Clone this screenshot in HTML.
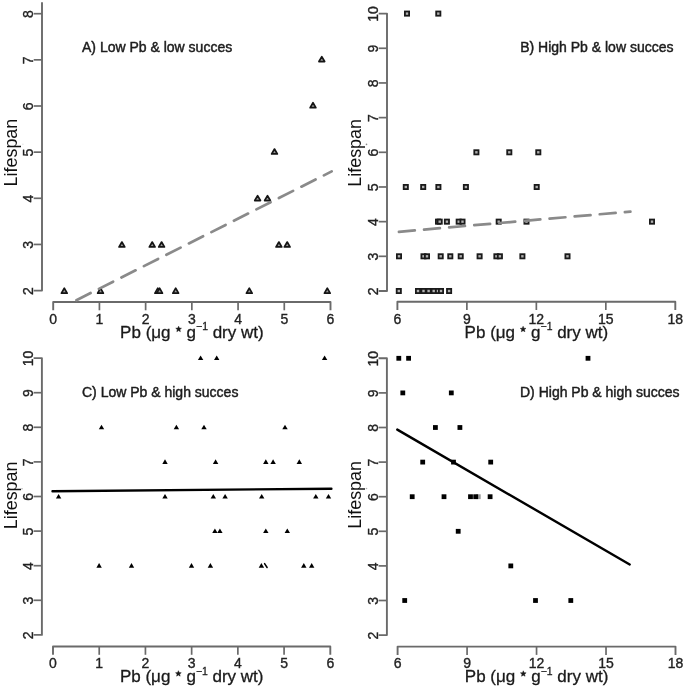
<!DOCTYPE html>
<html><head><meta charset="utf-8"><style>
html,body{margin:0;padding:0;background:#fff;}
body{width:685px;height:690px;overflow:hidden;}
svg{display:block;will-change:transform;}
text{font-family:"Liberation Sans", sans-serif;}
.tk{font-size:14px;fill:#222;stroke:#222;stroke-width:0.35px;}
.yl{font-size:17.9px;fill:#111;}
.xl{font-size:17px;fill:#1a1a1a;stroke:#1a1a1a;stroke-width:0.3px;}
.sup{font-size:10.4px;}
.hid{fill:none;stroke:none;}
.tt{font-size:14px;fill:#1c1c1c;stroke:#1c1c1c;stroke-width:0.45px;}
</style></head><body>
<svg width="685" height="690" viewBox="0 0 685 690">
<rect width="685" height="690" fill="#fff"/>
<path d="M33.7,290.6 L42,290.6 L42,2.3" fill="none" stroke="#6a6a6a" stroke-width="1.9" stroke-linejoin="round" stroke-linecap="butt"/>
<text transform="translate(32.6,291) rotate(-90)" text-anchor="middle" class="tk">2</text>
<line x1="33.7" y1="244.45" x2="42" y2="244.45" stroke="#6a6a6a" stroke-width="1.7"/>
<text transform="translate(32.6,244.85) rotate(-90)" text-anchor="middle" class="tk">3</text>
<line x1="33.7" y1="198.3" x2="42" y2="198.3" stroke="#6a6a6a" stroke-width="1.7"/>
<text transform="translate(32.6,198.7) rotate(-90)" text-anchor="middle" class="tk">4</text>
<line x1="33.7" y1="152.15" x2="42" y2="152.15" stroke="#6a6a6a" stroke-width="1.7"/>
<text transform="translate(32.6,152.55) rotate(-90)" text-anchor="middle" class="tk">5</text>
<line x1="33.7" y1="106" x2="42" y2="106" stroke="#6a6a6a" stroke-width="1.7"/>
<text transform="translate(32.6,106.4) rotate(-90)" text-anchor="middle" class="tk">6</text>
<line x1="33.7" y1="59.85" x2="42" y2="59.85" stroke="#6a6a6a" stroke-width="1.7"/>
<text transform="translate(32.6,60.25) rotate(-90)" text-anchor="middle" class="tk">7</text>
<line x1="33.7" y1="13.7" x2="42" y2="13.7" stroke="#6a6a6a" stroke-width="1.7"/>
<text transform="translate(32.6,14.1) rotate(-90)" text-anchor="middle" class="tk">8</text>
<path d="M53.2,310.3 L53.2,302 L330.5,302 L330.5,310.3" fill="none" stroke="#6a6a6a" stroke-width="1.9" stroke-linejoin="round" stroke-linecap="butt"/>
<text x="53.2" y="323.8" text-anchor="middle" class="tk">0</text>
<line x1="99.42" y1="302" x2="99.42" y2="310.3" stroke="#6a6a6a" stroke-width="1.7"/>
<text x="99.42" y="323.8" text-anchor="middle" class="tk">1</text>
<line x1="145.63" y1="302" x2="145.63" y2="310.3" stroke="#6a6a6a" stroke-width="1.7"/>
<text x="145.63" y="323.8" text-anchor="middle" class="tk">2</text>
<line x1="191.85" y1="302" x2="191.85" y2="310.3" stroke="#6a6a6a" stroke-width="1.7"/>
<text x="191.85" y="323.8" text-anchor="middle" class="tk">3</text>
<line x1="238.07" y1="302" x2="238.07" y2="310.3" stroke="#6a6a6a" stroke-width="1.7"/>
<text x="238.07" y="323.8" text-anchor="middle" class="tk">4</text>
<line x1="284.28" y1="302" x2="284.28" y2="310.3" stroke="#6a6a6a" stroke-width="1.7"/>
<text x="284.28" y="323.8" text-anchor="middle" class="tk">5</text>
<text x="330.5" y="323.8" text-anchor="middle" class="tk">6</text>
<text transform="translate(16.8,152.6) rotate(-90)" text-anchor="middle" class="yl">Lifespan</text>
<text x="191.9" y="337.8" text-anchor="middle" class="xl">Pb (μg <tspan class="hid">*</tspan> g<tspan class="sup" dy="-7.5">−1</tspan><tspan dy="7.5"> dry wt)</tspan></text>
<polygon points="178.6,326.2 179.39,328.11 181.45,328.27 179.88,329.62 180.36,331.63 178.6,330.55 176.84,331.63 177.32,329.62 175.75,328.27 177.81,328.11" fill="#1a1a1a" stroke="#1a1a1a" stroke-width="0.5" stroke-linejoin="round"/>
<text x="82" y="52.3" class="tt">A) Low Pb &amp; low succes</text>
<path d="M378.7,291 L387,291 L387,13.6 L378.7,13.6" fill="none" stroke="#6a6a6a" stroke-width="1.9" stroke-linejoin="round" stroke-linecap="butt"/>
<text transform="translate(377.6,291.4) rotate(-90)" text-anchor="middle" class="tk">2</text>
<line x1="378.7" y1="256.32" x2="387" y2="256.32" stroke="#6a6a6a" stroke-width="1.7"/>
<text transform="translate(377.6,256.72) rotate(-90)" text-anchor="middle" class="tk">3</text>
<line x1="378.7" y1="221.65" x2="387" y2="221.65" stroke="#6a6a6a" stroke-width="1.7"/>
<text transform="translate(377.6,222.05) rotate(-90)" text-anchor="middle" class="tk">4</text>
<line x1="378.7" y1="186.98" x2="387" y2="186.98" stroke="#6a6a6a" stroke-width="1.7"/>
<text transform="translate(377.6,187.38) rotate(-90)" text-anchor="middle" class="tk">5</text>
<line x1="378.7" y1="152.3" x2="387" y2="152.3" stroke="#6a6a6a" stroke-width="1.7"/>
<text transform="translate(377.6,152.7) rotate(-90)" text-anchor="middle" class="tk">6</text>
<line x1="378.7" y1="117.62" x2="387" y2="117.62" stroke="#6a6a6a" stroke-width="1.7"/>
<text transform="translate(377.6,118.03) rotate(-90)" text-anchor="middle" class="tk">7</text>
<line x1="378.7" y1="82.95" x2="387" y2="82.95" stroke="#6a6a6a" stroke-width="1.7"/>
<text transform="translate(377.6,83.35) rotate(-90)" text-anchor="middle" class="tk">8</text>
<line x1="378.7" y1="48.28" x2="387" y2="48.28" stroke="#6a6a6a" stroke-width="1.7"/>
<text transform="translate(377.6,48.68) rotate(-90)" text-anchor="middle" class="tk">9</text>
<text transform="translate(377.6,14) rotate(-90)" text-anchor="middle" class="tk">10</text>
<path d="M397.4,310 L397.4,301.7 L675.3,301.7 L675.3,310" fill="none" stroke="#6a6a6a" stroke-width="1.9" stroke-linejoin="round" stroke-linecap="butt"/>
<text x="397.4" y="323.5" text-anchor="middle" class="tk">6</text>
<line x1="466.88" y1="301.7" x2="466.88" y2="310" stroke="#6a6a6a" stroke-width="1.7"/>
<text x="466.88" y="323.5" text-anchor="middle" class="tk">9</text>
<line x1="536.35" y1="301.7" x2="536.35" y2="310" stroke="#6a6a6a" stroke-width="1.7"/>
<text x="536.35" y="323.5" text-anchor="middle" class="tk">12</text>
<line x1="605.82" y1="301.7" x2="605.82" y2="310" stroke="#6a6a6a" stroke-width="1.7"/>
<text x="605.82" y="323.5" text-anchor="middle" class="tk">15</text>
<text x="675.3" y="323.5" text-anchor="middle" class="tk">18</text>
<text transform="translate(361.2,152.9) rotate(-90)" text-anchor="middle" class="yl">Lifespan</text>
<text x="536.4" y="337.9" text-anchor="middle" class="xl">Pb (μg <tspan class="hid">*</tspan> g<tspan class="sup" dy="-7.5">−1</tspan><tspan dy="7.5"> dry wt)</tspan></text>
<polygon points="523.1,326.3 523.89,328.21 525.95,328.37 524.38,329.72 524.86,331.73 523.1,330.65 521.34,331.73 521.82,329.72 520.25,328.37 522.31,328.21" fill="#1a1a1a" stroke="#1a1a1a" stroke-width="0.5" stroke-linejoin="round"/>
<text x="520.2" y="52.3" class="tt">B) High Pb &amp; low succes</text>
<path d="M33.6,634.9 L41.9,634.9 L41.9,358.1 L33.6,358.1" fill="none" stroke="#6a6a6a" stroke-width="1.9" stroke-linejoin="round" stroke-linecap="butt"/>
<text transform="translate(32.5,635.3) rotate(-90)" text-anchor="middle" class="tk">2</text>
<line x1="33.6" y1="600.3" x2="41.9" y2="600.3" stroke="#6a6a6a" stroke-width="1.7"/>
<text transform="translate(32.5,600.7) rotate(-90)" text-anchor="middle" class="tk">3</text>
<line x1="33.6" y1="565.7" x2="41.9" y2="565.7" stroke="#6a6a6a" stroke-width="1.7"/>
<text transform="translate(32.5,566.1) rotate(-90)" text-anchor="middle" class="tk">4</text>
<line x1="33.6" y1="531.1" x2="41.9" y2="531.1" stroke="#6a6a6a" stroke-width="1.7"/>
<text transform="translate(32.5,531.5) rotate(-90)" text-anchor="middle" class="tk">5</text>
<line x1="33.6" y1="496.5" x2="41.9" y2="496.5" stroke="#6a6a6a" stroke-width="1.7"/>
<text transform="translate(32.5,496.9) rotate(-90)" text-anchor="middle" class="tk">6</text>
<line x1="33.6" y1="461.9" x2="41.9" y2="461.9" stroke="#6a6a6a" stroke-width="1.7"/>
<text transform="translate(32.5,462.3) rotate(-90)" text-anchor="middle" class="tk">7</text>
<line x1="33.6" y1="427.3" x2="41.9" y2="427.3" stroke="#6a6a6a" stroke-width="1.7"/>
<text transform="translate(32.5,427.7) rotate(-90)" text-anchor="middle" class="tk">8</text>
<line x1="33.6" y1="392.7" x2="41.9" y2="392.7" stroke="#6a6a6a" stroke-width="1.7"/>
<text transform="translate(32.5,393.1) rotate(-90)" text-anchor="middle" class="tk">9</text>
<text transform="translate(32.5,358.5) rotate(-90)" text-anchor="middle" class="tk">10</text>
<path d="M53,654.8 L53,646.5 L330.3,646.5 L330.3,654.8" fill="none" stroke="#6a6a6a" stroke-width="1.9" stroke-linejoin="round" stroke-linecap="butt"/>
<text x="53" y="668.3" text-anchor="middle" class="tk">0</text>
<line x1="99.22" y1="646.5" x2="99.22" y2="654.8" stroke="#6a6a6a" stroke-width="1.7"/>
<text x="99.22" y="668.3" text-anchor="middle" class="tk">1</text>
<line x1="145.43" y1="646.5" x2="145.43" y2="654.8" stroke="#6a6a6a" stroke-width="1.7"/>
<text x="145.43" y="668.3" text-anchor="middle" class="tk">2</text>
<line x1="191.65" y1="646.5" x2="191.65" y2="654.8" stroke="#6a6a6a" stroke-width="1.7"/>
<text x="191.65" y="668.3" text-anchor="middle" class="tk">3</text>
<line x1="237.87" y1="646.5" x2="237.87" y2="654.8" stroke="#6a6a6a" stroke-width="1.7"/>
<text x="237.87" y="668.3" text-anchor="middle" class="tk">4</text>
<line x1="284.08" y1="646.5" x2="284.08" y2="654.8" stroke="#6a6a6a" stroke-width="1.7"/>
<text x="284.08" y="668.3" text-anchor="middle" class="tk">5</text>
<text x="330.3" y="668.3" text-anchor="middle" class="tk">6</text>
<text transform="translate(16.8,495.4) rotate(-90)" text-anchor="middle" class="yl">Lifespan</text>
<text x="191.7" y="682.3" text-anchor="middle" class="xl">Pb (μg <tspan class="hid">*</tspan> g<tspan class="sup" dy="-7.5">−1</tspan><tspan dy="7.5"> dry wt)</tspan></text>
<polygon points="178.4,670.7 179.19,672.61 181.25,672.77 179.68,674.12 180.16,676.13 178.4,675.05 176.64,676.13 177.12,674.12 175.55,672.77 177.61,672.61" fill="#1a1a1a" stroke="#1a1a1a" stroke-width="0.5" stroke-linejoin="round"/>
<text x="82" y="397.3" class="tt">C) Low Pb &amp; high succes</text>
<path d="M378.6,635.1 L386.9,635.1 L386.9,358.3 L378.6,358.3" fill="none" stroke="#6a6a6a" stroke-width="1.9" stroke-linejoin="round" stroke-linecap="butt"/>
<text transform="translate(377.5,635.5) rotate(-90)" text-anchor="middle" class="tk">2</text>
<line x1="378.6" y1="600.5" x2="386.9" y2="600.5" stroke="#6a6a6a" stroke-width="1.7"/>
<text transform="translate(377.5,600.9) rotate(-90)" text-anchor="middle" class="tk">3</text>
<line x1="378.6" y1="565.9" x2="386.9" y2="565.9" stroke="#6a6a6a" stroke-width="1.7"/>
<text transform="translate(377.5,566.3) rotate(-90)" text-anchor="middle" class="tk">4</text>
<line x1="378.6" y1="531.3" x2="386.9" y2="531.3" stroke="#6a6a6a" stroke-width="1.7"/>
<text transform="translate(377.5,531.7) rotate(-90)" text-anchor="middle" class="tk">5</text>
<line x1="378.6" y1="496.7" x2="386.9" y2="496.7" stroke="#6a6a6a" stroke-width="1.7"/>
<text transform="translate(377.5,497.1) rotate(-90)" text-anchor="middle" class="tk">6</text>
<line x1="378.6" y1="462.1" x2="386.9" y2="462.1" stroke="#6a6a6a" stroke-width="1.7"/>
<text transform="translate(377.5,462.5) rotate(-90)" text-anchor="middle" class="tk">7</text>
<line x1="378.6" y1="427.5" x2="386.9" y2="427.5" stroke="#6a6a6a" stroke-width="1.7"/>
<text transform="translate(377.5,427.9) rotate(-90)" text-anchor="middle" class="tk">8</text>
<line x1="378.6" y1="392.9" x2="386.9" y2="392.9" stroke="#6a6a6a" stroke-width="1.7"/>
<text transform="translate(377.5,393.3) rotate(-90)" text-anchor="middle" class="tk">9</text>
<text transform="translate(377.5,358.7) rotate(-90)" text-anchor="middle" class="tk">10</text>
<path d="M397.6,654.9 L397.6,646.6 L675.5,646.6 L675.5,654.9" fill="none" stroke="#6a6a6a" stroke-width="1.9" stroke-linejoin="round" stroke-linecap="butt"/>
<text x="397.6" y="668.4" text-anchor="middle" class="tk">6</text>
<line x1="467.08" y1="646.6" x2="467.08" y2="654.9" stroke="#6a6a6a" stroke-width="1.7"/>
<text x="467.08" y="668.4" text-anchor="middle" class="tk">9</text>
<line x1="536.55" y1="646.6" x2="536.55" y2="654.9" stroke="#6a6a6a" stroke-width="1.7"/>
<text x="536.55" y="668.4" text-anchor="middle" class="tk">12</text>
<line x1="606.02" y1="646.6" x2="606.02" y2="654.9" stroke="#6a6a6a" stroke-width="1.7"/>
<text x="606.02" y="668.4" text-anchor="middle" class="tk">15</text>
<text x="675.5" y="668.4" text-anchor="middle" class="tk">18</text>
<text transform="translate(361.2,494.9) rotate(-90)" text-anchor="middle" class="yl">Lifespan</text>
<text x="536.6" y="682.4" text-anchor="middle" class="xl">Pb (μg <tspan class="hid">*</tspan> g<tspan class="sup" dy="-7.5">−1</tspan><tspan dy="7.5"> dry wt)</tspan></text>
<polygon points="523.3,670.8 524.09,672.71 526.15,672.87 524.58,674.22 525.06,676.23 523.3,675.15 521.54,676.23 522.02,674.22 520.45,672.87 522.51,672.71" fill="#1a1a1a" stroke="#1a1a1a" stroke-width="0.5" stroke-linejoin="round"/>
<text x="520" y="396.9" class="tt">D) High Pb &amp; high succes</text>
<polygon points="64.3,288.25 67.15,293.15 61.45,293.15" fill="#999" stroke="#151515" stroke-width="1.7" stroke-linejoin="round"/>
<polygon points="100.5,288.25 103.35,293.15 97.65,293.15" fill="#999" stroke="#151515" stroke-width="1.7" stroke-linejoin="round"/>
<polygon points="157.8,288.25 160.65,293.15 154.95,293.15" fill="#999" stroke="#151515" stroke-width="1.7" stroke-linejoin="round"/>
<polygon points="159.6,288.25 162.45,293.15 156.75,293.15" fill="#999" stroke="#151515" stroke-width="1.7" stroke-linejoin="round"/>
<polygon points="175.7,288.25 178.55,293.15 172.85,293.15" fill="#999" stroke="#151515" stroke-width="1.7" stroke-linejoin="round"/>
<polygon points="249.3,288.25 252.15,293.15 246.45,293.15" fill="#999" stroke="#151515" stroke-width="1.7" stroke-linejoin="round"/>
<polygon points="327.3,288.25 330.15,293.15 324.45,293.15" fill="#999" stroke="#151515" stroke-width="1.7" stroke-linejoin="round"/>
<polygon points="121.9,242.05 124.75,246.95 119.05,246.95" fill="#999" stroke="#151515" stroke-width="1.7" stroke-linejoin="round"/>
<polygon points="152.2,242.05 155.05,246.95 149.35,246.95" fill="#999" stroke="#151515" stroke-width="1.7" stroke-linejoin="round"/>
<polygon points="161.6,242.05 164.45,246.95 158.75,246.95" fill="#999" stroke="#151515" stroke-width="1.7" stroke-linejoin="round"/>
<polygon points="278.9,242.05 281.75,246.95 276.05,246.95" fill="#999" stroke="#151515" stroke-width="1.7" stroke-linejoin="round"/>
<polygon points="287.2,242.05 290.05,246.95 284.35,246.95" fill="#999" stroke="#151515" stroke-width="1.7" stroke-linejoin="round"/>
<polygon points="257.6,195.65 260.45,200.55 254.75,200.55" fill="#999" stroke="#151515" stroke-width="1.7" stroke-linejoin="round"/>
<polygon points="267.5,195.65 270.35,200.55 264.65,200.55" fill="#999" stroke="#151515" stroke-width="1.7" stroke-linejoin="round"/>
<polygon points="274.5,149.05 277.35,153.95 271.65,153.95" fill="#999" stroke="#151515" stroke-width="1.7" stroke-linejoin="round"/>
<polygon points="313,102.75 315.85,107.65 310.15,107.65" fill="#999" stroke="#151515" stroke-width="1.7" stroke-linejoin="round"/>
<polygon points="321.8,56.65 324.65,61.55 318.95,61.55" fill="#999" stroke="#151515" stroke-width="1.7" stroke-linejoin="round"/>
<rect x="404.9" y="11.5" width="4.2" height="4.2" fill="#b0b0b0" stroke="#1a1a1a" stroke-width="1.8"/>
<rect x="436.2" y="11.5" width="4.2" height="4.2" fill="#b0b0b0" stroke="#1a1a1a" stroke-width="1.8"/>
<rect x="474.3" y="150.2" width="4.2" height="4.2" fill="#b0b0b0" stroke="#1a1a1a" stroke-width="1.8"/>
<rect x="507.2" y="150.2" width="4.2" height="4.2" fill="#b0b0b0" stroke="#1a1a1a" stroke-width="1.8"/>
<rect x="536.2" y="150.2" width="4.2" height="4.2" fill="#b0b0b0" stroke="#1a1a1a" stroke-width="1.8"/>
<rect x="403.7" y="184.9" width="4.2" height="4.2" fill="#b0b0b0" stroke="#1a1a1a" stroke-width="1.8"/>
<rect x="421.1" y="184.9" width="4.2" height="4.2" fill="#b0b0b0" stroke="#1a1a1a" stroke-width="1.8"/>
<rect x="436.3" y="184.9" width="4.2" height="4.2" fill="#b0b0b0" stroke="#1a1a1a" stroke-width="1.8"/>
<rect x="463.8" y="184.9" width="4.2" height="4.2" fill="#b0b0b0" stroke="#1a1a1a" stroke-width="1.8"/>
<rect x="534.6" y="184.9" width="4.2" height="4.2" fill="#b0b0b0" stroke="#1a1a1a" stroke-width="1.8"/>
<rect x="435.9" y="219.55" width="4.2" height="4.2" fill="#b0b0b0" stroke="#1a1a1a" stroke-width="1.8"/>
<rect x="437.6" y="219.55" width="4.2" height="4.2" fill="#b0b0b0" stroke="#1a1a1a" stroke-width="1.8"/>
<rect x="444.8" y="219.55" width="4.2" height="4.2" fill="#b0b0b0" stroke="#1a1a1a" stroke-width="1.8"/>
<rect x="456.6" y="219.55" width="4.2" height="4.2" fill="#b0b0b0" stroke="#1a1a1a" stroke-width="1.8"/>
<rect x="460.4" y="219.55" width="4.2" height="4.2" fill="#b0b0b0" stroke="#1a1a1a" stroke-width="1.8"/>
<rect x="496.6" y="219.55" width="4.2" height="4.2" fill="#b0b0b0" stroke="#1a1a1a" stroke-width="1.8"/>
<rect x="524.4" y="219.55" width="4.2" height="4.2" fill="#b0b0b0" stroke="#1a1a1a" stroke-width="1.8"/>
<rect x="649.9" y="219.55" width="4.2" height="4.2" fill="#b0b0b0" stroke="#1a1a1a" stroke-width="1.8"/>
<rect x="396.9" y="254.2" width="4.2" height="4.2" fill="#b0b0b0" stroke="#1a1a1a" stroke-width="1.8"/>
<rect x="421.4" y="254.2" width="4.2" height="4.2" fill="#b0b0b0" stroke="#1a1a1a" stroke-width="1.8"/>
<rect x="424.9" y="254.2" width="4.2" height="4.2" fill="#b0b0b0" stroke="#1a1a1a" stroke-width="1.8"/>
<rect x="438.6" y="254.2" width="4.2" height="4.2" fill="#b0b0b0" stroke="#1a1a1a" stroke-width="1.8"/>
<rect x="448.2" y="254.2" width="4.2" height="4.2" fill="#b0b0b0" stroke="#1a1a1a" stroke-width="1.8"/>
<rect x="458.6" y="254.2" width="4.2" height="4.2" fill="#b0b0b0" stroke="#1a1a1a" stroke-width="1.8"/>
<rect x="477.5" y="254.2" width="4.2" height="4.2" fill="#b0b0b0" stroke="#1a1a1a" stroke-width="1.8"/>
<rect x="494.3" y="254.2" width="4.2" height="4.2" fill="#b0b0b0" stroke="#1a1a1a" stroke-width="1.8"/>
<rect x="497.8" y="254.2" width="4.2" height="4.2" fill="#b0b0b0" stroke="#1a1a1a" stroke-width="1.8"/>
<rect x="520.3" y="254.2" width="4.2" height="4.2" fill="#b0b0b0" stroke="#1a1a1a" stroke-width="1.8"/>
<rect x="565.4" y="254.2" width="4.2" height="4.2" fill="#b0b0b0" stroke="#1a1a1a" stroke-width="1.8"/>
<rect x="396.7" y="288.9" width="4.2" height="4.2" fill="#b0b0b0" stroke="#1a1a1a" stroke-width="1.8"/>
<rect x="415.9" y="288.9" width="4.2" height="4.2" fill="#b0b0b0" stroke="#1a1a1a" stroke-width="1.8"/>
<rect x="421.4" y="288.9" width="4.2" height="4.2" fill="#b0b0b0" stroke="#1a1a1a" stroke-width="1.8"/>
<rect x="426.5" y="288.9" width="4.2" height="4.2" fill="#b0b0b0" stroke="#1a1a1a" stroke-width="1.8"/>
<rect x="431.6" y="288.9" width="4.2" height="4.2" fill="#b0b0b0" stroke="#1a1a1a" stroke-width="1.8"/>
<rect x="435.9" y="288.9" width="4.2" height="4.2" fill="#b0b0b0" stroke="#1a1a1a" stroke-width="1.8"/>
<rect x="438.9" y="288.9" width="4.2" height="4.2" fill="#b0b0b0" stroke="#1a1a1a" stroke-width="1.8"/>
<rect x="447" y="288.9" width="4.2" height="4.2" fill="#b0b0b0" stroke="#1a1a1a" stroke-width="1.8"/>
<polygon points="200.6,355.5 203.3,360.1 197.9,360.1" fill="#000"/>
<polygon points="216.7,355.5 219.4,360.1 214,360.1" fill="#000"/>
<polygon points="324.6,355.5 327.3,360.1 321.9,360.1" fill="#000"/>
<polygon points="101.5,424.7 104.2,429.3 98.8,429.3" fill="#000"/>
<polygon points="176.4,424.7 179.1,429.3 173.7,429.3" fill="#000"/>
<polygon points="204,424.7 206.7,429.3 201.3,429.3" fill="#000"/>
<polygon points="285,424.7 287.7,429.3 282.3,429.3" fill="#000"/>
<polygon points="165,459.3 167.7,463.9 162.3,463.9" fill="#000"/>
<polygon points="215.6,459.3 218.3,463.9 212.9,463.9" fill="#000"/>
<polygon points="265.8,459.3 268.5,463.9 263.1,463.9" fill="#000"/>
<polygon points="273.1,459.3 275.8,463.9 270.4,463.9" fill="#000"/>
<polygon points="299.3,459.3 302,463.9 296.6,463.9" fill="#000"/>
<polygon points="58.6,493.9 61.3,498.5 55.9,498.5" fill="#000"/>
<polygon points="165,493.9 167.7,498.5 162.3,498.5" fill="#000"/>
<polygon points="213.3,493.9 216,498.5 210.6,498.5" fill="#000"/>
<polygon points="225.1,493.9 227.8,498.5 222.4,498.5" fill="#000"/>
<polygon points="261.7,493.9 264.4,498.5 259,498.5" fill="#000"/>
<polygon points="315.8,493.9 318.5,498.5 313.1,498.5" fill="#000"/>
<polygon points="328.5,493.9 331.2,498.5 325.8,498.5" fill="#000"/>
<polygon points="214.9,528.5 217.6,533.1 212.2,533.1" fill="#000"/>
<polygon points="219.9,528.5 222.6,533.1 217.2,533.1" fill="#000"/>
<polygon points="265.8,528.5 268.5,533.1 263.1,533.1" fill="#000"/>
<polygon points="287.3,528.5 290,533.1 284.6,533.1" fill="#000"/>
<polygon points="99.1,563.1 101.8,567.7 96.4,567.7" fill="#000"/>
<polygon points="131.5,563.1 134.2,567.7 128.8,567.7" fill="#000"/>
<polygon points="191.5,563.1 194.2,567.7 188.8,567.7" fill="#000"/>
<polygon points="210.4,563.1 213.1,567.7 207.7,567.7" fill="#000"/>
<polygon points="261.4,563.1 264.1,567.7 258.7,567.7" fill="#000"/>
<polygon points="303.8,563.1 306.5,567.7 301.1,567.7" fill="#000"/>
<polygon points="311.7,563.1 314.4,567.7 309,567.7" fill="#000"/>
<line x1="264.6" y1="563.6" x2="267.1" y2="567.5" stroke="#000" stroke-width="1.5" stroke-linecap="round"/>
<rect x="475.9" y="494.3" width="4.8" height="4.8" fill="#9a9a9a"/>
<rect x="396.4" y="355.9" width="4.8" height="4.8" fill="#000"/>
<rect x="406.2" y="355.9" width="4.8" height="4.8" fill="#000"/>
<rect x="585.6" y="355.9" width="4.8" height="4.8" fill="#000"/>
<rect x="400.4" y="390.5" width="4.8" height="4.8" fill="#000"/>
<rect x="448.9" y="390.5" width="4.8" height="4.8" fill="#000"/>
<rect x="433" y="425.1" width="4.8" height="4.8" fill="#000"/>
<rect x="457.5" y="425.1" width="4.8" height="4.8" fill="#000"/>
<rect x="420.3" y="459.7" width="4.8" height="4.8" fill="#000"/>
<rect x="451.1" y="459.7" width="4.8" height="4.8" fill="#000"/>
<rect x="488.3" y="459.7" width="4.8" height="4.8" fill="#000"/>
<rect x="409.8" y="494.3" width="4.8" height="4.8" fill="#000"/>
<rect x="441.6" y="494.3" width="4.8" height="4.8" fill="#000"/>
<rect x="468.1" y="494.3" width="4.8" height="4.8" fill="#000"/>
<rect x="473.3" y="494.3" width="4.8" height="4.8" fill="#000"/>
<rect x="487.7" y="494.3" width="4.8" height="4.8" fill="#000"/>
<rect x="455.8" y="528.9" width="4.8" height="4.8" fill="#000"/>
<rect x="508.4" y="563.5" width="4.8" height="4.8" fill="#000"/>
<rect x="402.3" y="598.1" width="4.8" height="4.8" fill="#000"/>
<rect x="533.1" y="598.1" width="4.8" height="4.8" fill="#000"/>
<rect x="568.4" y="598.1" width="4.8" height="4.8" fill="#000"/>
<circle cx="22.9" cy="144.2" r="0.8" fill="#e4e4e4"/>
<circle cx="366.5" cy="144.4" r="0.8" fill="#8a8a8a"/>
<circle cx="22.0" cy="488.7" r="0.8" fill="#b0b0b0"/>
<circle cx="366.5" cy="488.5" r="0.8" fill="#b0b0b0"/>
<line x1="75.2" y1="300.8" x2="331.7" y2="171.4" stroke="#8a8a8a" stroke-width="2.7" stroke-linecap="round" stroke-dasharray="15.9 9.3" stroke-dashoffset="-1.35"/>
<line x1="397.6" y1="231.9" x2="630.4" y2="211.6" stroke="#8a8a8a" stroke-width="2.7" stroke-linecap="round" stroke-dasharray="15.9 9.3" stroke-dashoffset="-1.35"/>
<line x1="52.5" y1="491.2" x2="331.4" y2="488.7" stroke="#000" stroke-width="2.4" stroke-linecap="round"/>
<line x1="397.3" y1="429.6" x2="629.7" y2="564.5" stroke="#000" stroke-width="2.4" stroke-linecap="round"/>
</svg>
</body></html>
